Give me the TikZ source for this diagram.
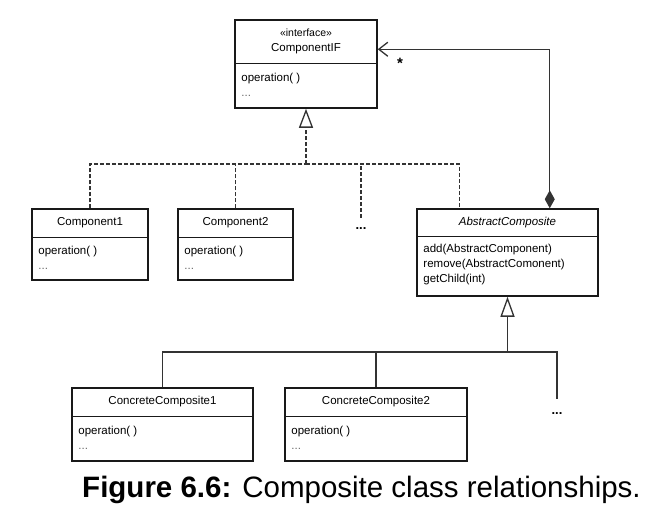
\documentclass[tikz,border=0pt]{standalone}
\usepackage{fontspec}
\setmainfont{Liberation Sans}
\usetikzlibrary{calc,positioning,arrows.meta}
\tikzstyle{classbox}  = [draw=black!90, line width=1.5pt, inner sep=0pt]
\tikzstyle{classline} = [draw=black!90, line width=1.3pt]
\tikzstyle{classtext} = [font=\fontsize{11.5}{15}\selectfont, inner sep=0pt, align=left]
\tikzstyle{realize}   = [line width=1.3pt, draw=black!80, dash pattern=on 4pt off 2pt]
\tikzstyle{inherit}   = [line width=1.3pt, draw=black!80]
\tikzstyle{ellip}     = [font=\fontsize{13}{15}\selectfont\bfseries, inner sep=0pt, anchor=base]
\newcommand{\moredots}{\textcolor{black!60}{...}}

\begin{document}
\begin{tikzpicture}[x=1pt,y=-1pt]
		\useasboundingbox (0,0) rectangle (656,528);

		% interface
		\node[classbox, minimum width=142pt, minimum height=88pt] (compif) at (306,64) {};
		\draw[classline] ($(compif.north west)+(0,-44pt)$) -- ($(compif.north east)+(0,-44pt)$);
		\node[classtext, align=center] (compifname) at ($(compif.north)+(0,-22pt)$) {{\fontsize{10.5}{15}\selectfont «interface»}\\ComponentIF};
		\node[classtext, anchor=north west] (compifops) at ($(compif.north west)+(7pt,-53.6pt)$) {operation( )\\\moredots};

		% leaves
		\node[classbox, minimum width=116pt, minimum height=71pt] (comp1) at (90,244.5) {};
		\draw[classline] ($(comp1.north west)+(0,-29pt)$) -- ($(comp1.north east)+(0,-29pt)$);
		\node[classtext] (comp1name) at ($(comp1.north)+(0,-14.5pt)$) {Component1};
		\node[classtext, anchor=north west] (comp1ops) at ($(comp1.north west)+(7pt,-37.6pt)$) {operation( )\\\moredots};

		\node[classbox, minimum width=115pt, minimum height=71pt] (comp2) at (235.5,244.5) {};
		\draw[classline] ($(comp2.north west)+(0,-29pt)$) -- ($(comp2.north east)+(0,-29pt)$);
		\node[classtext] (comp2name) at ($(comp2.north)+(0,-14.5pt)$) {Component2};
		\node[classtext, anchor=north west] (comp2ops) at ($(comp2.north west)+(7pt,-37.6pt)$) {operation( )\\\moredots};

		\node[ellip] (dotsif) at (361,229) {...};

		% composite
		\node[classbox, minimum width=181pt, minimum height=87pt] (abscomp) at (507.5,252.5) {};
		\draw[classline] ($(abscomp.north west)+(0,-28pt)$) -- ($(abscomp.north east)+(0,-28pt)$);
		\node[classtext] (abscompname) at ($(abscomp.north)+(0,-14pt)$) {\textit{AbstractComposite}};
		\node[classtext, anchor=north west] (abscompops) at ($(abscomp.north west)+(7pt,-35.6pt)$) {add(AbstractComponent)\\remove(AbstractComonent)\\getChild(int)};

		% concrete composites
		\node[classbox, minimum width=181pt, minimum height=73pt] (concomp1) at (162.5,424.5) {};
		\draw[classline] ($(concomp1.north west)+(0,-29pt)$) -- ($(concomp1.north east)+(0,-29pt)$);
		\node[classtext] (concomp1name) at ($(concomp1.north)+(0,-14.5pt)$) {ConcreteComposite1};
		\node[classtext, anchor=north west] (concomp1ops) at ($(concomp1.north west)+(7pt,-38.6pt)$) {operation( )\\\moredots};

		\node[classbox, minimum width=182pt, minimum height=73pt] (concomp2) at (376,424.5) {};
		\draw[classline] ($(concomp2.north west)+(0,-29pt)$) -- ($(concomp2.north east)+(0,-29pt)$);
		\node[classtext] (concomp2name) at ($(concomp2.north)+(0,-14.5pt)$) {ConcreteComposite2};
		\node[classtext, anchor=north west] (concomp2ops) at ($(concomp2.north west)+(7pt,-38.6pt)$) {operation( )\\\moredots};

		\node[ellip] (dotscc) at (557,414) {...};

		% realization of the interface
		\coordinate (ifbus) at (306,164);
		\draw[realize, -{Triangle[open,length=19pt,width=14pt]}] (ifbus) -- (compif.south);
		\draw[realize] (comp1.north) |- (ifbus);
		\draw[realize] (comp2.north) -- (comp2.north |- ifbus);
		\draw[realize] ($(dotsif.north)+(0,9pt)$) -- (dotsif.north |- ifbus);
		\draw[realize] (ifbus) -| ($(abscomp.north west)+(43pt,0)$);

		% inheritance from the composite
		\coordinate (acbus) at (507.5,352);
		\draw[inherit, -{Triangle[open,length=20pt,width=14pt]}] (acbus) -- (abscomp.south);
		\draw[inherit] (concomp1.north) |- (acbus);
		\draw[inherit] (concomp2.north) -- (concomp2.north |- acbus);
		\draw[inherit] (acbus) -| ($(dotscc.north)+(0,13pt)$);

		% children
		\draw[inherit, {Diamond[length=18pt,width=10pt]}-{Straight Barb[length=9pt,width=14pt]}] ($(abscomp.north east)+(-49pt,0)$) |- ($(compif.north east)+(0,-30pt)$);
		\node[font=\fontsize{15}{15}\selectfont\bfseries, inner sep=0pt, anchor=base] (mult) at (400,68) {*};

		\node[font=\fontsize{29.5}{34}\selectfont, anchor=base, inner sep=0pt] (caption) at (361.5,497) {\textbf{Figure 6.6:} Composite class relationships.};
	\end{tikzpicture}
\end{document}
